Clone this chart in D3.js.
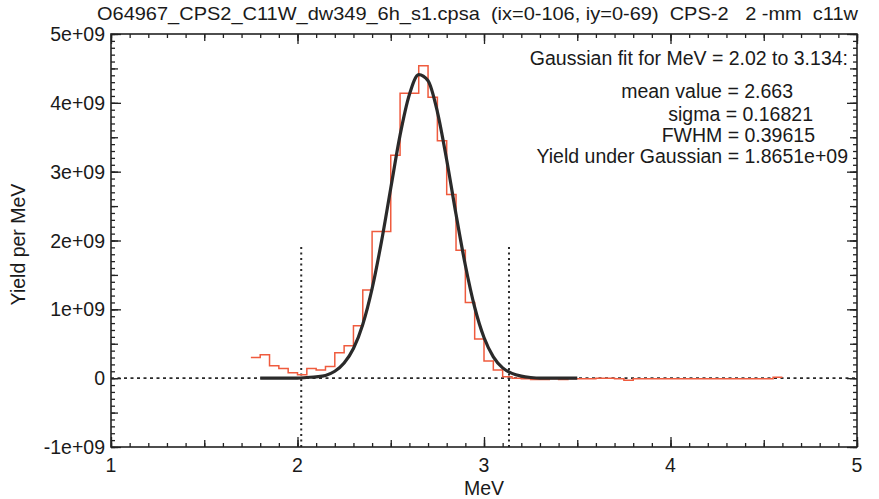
<!DOCTYPE html>
<html>
<head>
<meta charset="utf-8">
<script src="https://cdn.jsdelivr.net/npm/d3@7"></script>
<style>
  body { margin: 0; background: #fff; }
  text { font-family: "Liberation Sans", Arial, sans-serif; fill: #1a1a1a; }
</style>
</head>
<body>
<div id="chart"></div>
<script>
// histogram bins (left edge, MeV) and yield per MeV (units of 1e9)
const binLeft = [1.75, 1.80, 1.85, 1.90, 1.95, 2.00, 2.05, 2.10, 2.15, 2.20,
  2.25, 2.30, 2.35, 2.40, 2.45, 2.50, 2.55, 2.60, 2.65, 2.70,
  2.75, 2.80, 2.85, 2.90, 2.95, 3.00, 3.05, 3.10, 3.15, 3.20,
  3.25, 3.30, 3.35, 3.40, 3.45, 3.50, 3.55, 3.60, 3.65, 3.70,
  3.75, 3.80, 3.85, 3.90, 3.95, 4.00, 4.05, 4.10, 4.15, 4.20,
  4.25, 4.30, 4.35, 4.40, 4.45, 4.50, 4.55];
const binEnd = 4.60;
const yieldVals = [0.30, 0.34, 0.18, 0.14, 0.08, 0.05, 0.14, 0.12, 0.17, 0.37,
  0.47, 0.76, 1.28, 2.13, 2.13, 3.24, 4.14, 4.14, 4.54, 4.08,
  3.45, 2.67, 1.86, 1.10, 0.57, 0.25, 0.12, 0.02, 0.00, -0.01,
  -0.02, -0.02, -0.01, -0.02, -0.01, -0.01, -0.01, 0.00, 0.00, -0.01,
  -0.03, -0.01, -0.01, -0.01, -0.01, -0.01, -0.01, -0.01, -0.01, -0.01,
  -0.01, -0.01, -0.01, -0.01, -0.01, -0.01, 0.015];

// gaussian fit curve (MeV, 1e9 per MeV)
const fitE = [1.80, 1.85, 1.90, 1.95, 2.00, 2.05, 2.10, 2.15, 2.20, 2.25,
  2.30, 2.35, 2.40, 2.45, 2.50, 2.55, 2.60, 2.65, 2.70, 2.75,
  2.80, 2.85, 2.90, 2.95, 3.00, 3.05, 3.10, 3.15, 3.20, 3.25,
  3.30, 3.35, 3.40, 3.45, 3.50];
const fitVals = [0.00, 0.00, 0.00, 0.00, 0.00, 0.01, 0.02, 0.04, 0.10, 0.22,
  0.43, 0.78, 1.30, 1.98, 2.76, 3.53, 4.12, 4.41, 4.32, 3.87,
  3.17, 2.38, 1.64, 1.03, 0.59, 0.31, 0.15, 0.07, 0.03, 0.01,
  0.00, 0.00, 0.00, 0.00, 0.00];

// fit window markers
const fitRange = [2.02, 3.134];
const markerTop = 1.93;

const xTickVals = [1, 2, 3, 4, 5];
const yTickVals = [-1, 0, 1, 2, 3, 4, 5];
const yTickLabels = ["-1e+09", "0", "1e+09", "2e+09", "3e+09", "4e+09", "5e+09"];

const titleText = "O64967_CPS2_C11W_dw349_6h_s1.cpsa  (ix=0-106, iy=0-69)  CPS-2   2 -mm  c11w";
const fitLines = [
  "Gaussian fit for MeV = 2.02 to 3.134:",
  "mean value = 2.663",
  "sigma = 0.16821",
  "FWHM = 0.39615",
  "Yield under Gaussian = 1.8651e+09"
];

const W = 879, H = 499;
const margin = { top: 34, right: 22, bottom: 52, left: 111 };
const width = W - margin.left - margin.right;
const height = H - margin.top - margin.bottom;

const svg = d3.select("#chart").append("svg")
  .attr("width", W)
  .attr("height", H);

const g = svg.append("g")
  .attr("transform", "translate(" + margin.left + "," + margin.top + ")");

const x = d3.scaleLinear().domain([1, 5]).range([0, width]);
const y = d3.scaleLinear().domain([-1, 5]).range([height, 0]);

// zero line
g.append("line")
  .attr("x1", 0).attr("x2", width)
  .attr("y1", y(0)).attr("y2", y(0))
  .attr("stroke", "#2a2a2a").attr("stroke-width", 1.8)
  .attr("stroke-dasharray", "3,3.5");

// fit window markers
g.selectAll(".marker")
  .data(fitRange)
  .enter()
  .append("line")
  .attr("x1", d => x(d)).attr("x2", d => x(d))
  .attr("y1", y(-1)).attr("y2", y(markerTop))
  .attr("stroke", "#2a2a2a").attr("stroke-width", 2)
  .attr("stroke-dasharray", "2,3.5");

// histogram steps
const steps = binLeft.map((e, i) => [e, yieldVals[i]]);
steps.push([binEnd, yieldVals[yieldVals.length - 1]]);

g.append("path")
  .datum(steps)
  .attr("fill", "none")
  .attr("stroke", "#ef5b3e")
  .attr("stroke-width", 1.5)
  .attr("d", d3.line()
    .curve(d3.curveStepAfter)
    .x(d => x(d[0]))
    .y(d => y(d[1])));

// gaussian fit
g.append("path")
  .datum(fitE.map((e, i) => [e, fitVals[i]]))
  .attr("fill", "none")
  .attr("stroke", "#2a2a2a")
  .attr("stroke-width", 3.2)
  .attr("stroke-linejoin", "round")
  .attr("d", d3.line()
    .curve(d3.curveMonotoneX)
    .x(d => x(d[0]))
    .y(d => y(d[1])));

// axes with inward ticks: minor, half and major
function ticks(axisFn, scale, vals, size, transform) {
  g.append("g")
    .attr("transform", transform)
    .call(axisFn(scale).tickValues(vals).tickSize(-size).tickSizeOuter(0).tickFormat(""))
    .call(a => a.select(".domain").remove())
    .selectAll("line").attr("stroke", "#222").attr("stroke-width", 1.3);
}

const sides = [
  [d3.axisBottom, x, "translate(0," + height + ")"],
  [d3.axisTop, x, "translate(0,0)"],
  [d3.axisLeft, y, "translate(0,0)"],
  [d3.axisRight, y, "translate(" + width + ",0)"]
];
sides.forEach(s => {
  const sc = s[1];
  const n = sc === x ? 4 : 6;
  ticks(s[0], sc, sc.ticks(n * 10), 4, s[2]);
  ticks(s[0], sc, sc.ticks(n * 2), 7, s[2]);
  ticks(s[0], sc, sc.ticks(n), 10, s[2]);
});

g.append("rect")
  .attr("width", width).attr("height", height)
  .attr("fill", "none")
  .attr("stroke", "#222").attr("stroke-width", 1.6);

// tick labels
g.selectAll(".xlab")
  .data(xTickVals)
  .enter()
  .append("text")
  .attr("x", d => x(d))
  .attr("y", height + 25)
  .attr("text-anchor", "middle")
  .style("font-size", "19.5px")
  .text(d => d);

g.selectAll(".ylab")
  .data(yTickVals)
  .enter()
  .append("text")
  .attr("x", -6)
  .attr("y", d => y(d))
  .attr("dy", "0.36em")
  .attr("text-anchor", "end")
  .style("font-size", "19.5px")
  .text((d, i) => yTickLabels[i]);

// axis titles
svg.append("text")
  .attr("x", margin.left + width / 2)
  .attr("y", 495)
  .attr("text-anchor", "middle")
  .style("font-size", "19.5px")
  .text("MeV");

svg.append("text")
  .attr("transform", "translate(25," + (margin.top + height / 2 + 4) + ") rotate(-90)")
  .attr("text-anchor", "middle")
  .style("font-size", "19.5px")
  .text("Yield per MeV");

svg.append("text")
  .attr("x", 97)
  .attr("y", 20)
  .attr("textLength", 761)
  .attr("lengthAdjust", "spacingAndGlyphs")
  .style("font-size", "19px")
  .style("white-space", "pre")
  .text(titleText);

// fit summary
const noteRight = [848, 793, 813, 815, 848];
const noteBase = [65, 98, 121, 142, 163];
svg.selectAll(".note")
  .data(fitLines)
  .enter()
  .append("text")
  .attr("x", (d, i) => noteRight[i])
  .attr("y", (d, i) => noteBase[i])
  .attr("text-anchor", "end")
  .style("font-size", "19.5px")
  .text(d => d);
</script>
</body>
</html>
